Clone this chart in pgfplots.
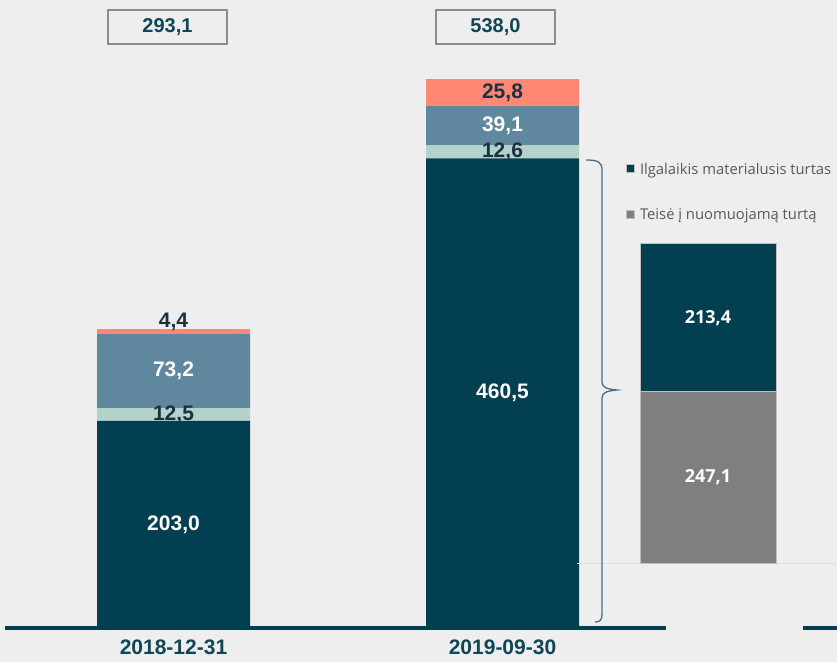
\documentclass[border=0pt]{standalone}
\usepackage{fontspec}
\setmainfont{Liberation Sans}
\newfontfamily\osans{Open Sans}
\usepackage{pgfplots}
\pgfplotsset{compat=1.18}

\definecolor{bg}{HTML}{EEEEEE}
\definecolor{tealc}{HTML}{023F50}
\definecolor{mint}{HTML}{B3D3CA}
\definecolor{steel}{HTML}{5F879E}
\definecolor{salmon}{HTML}{FF8875}
\definecolor{midgray}{HTML}{7F7F7F}
\definecolor{darktxt}{HTML}{1C3040}
\definecolor{boxtxt}{HTML}{0F4658}
\definecolor{bracec}{HTML}{4A6B8A}
\definecolor{legtxt}{HTML}{595959}

\begin{document}
\begin{tikzpicture}[x=1pt,y=1pt,
  lbl/.style={font=\bfseries\fontsize{21}{21}\selectfont},
  slbl/.style={font=\osans\bfseries\fontsize{18}{18}\selectfont, text=white}]
\fill[bg] (0,0) rectangle (837,662);
\useasboundingbox (0,0) rectangle (837,662);

% total boxes
\draw[gray!90, line width=1.1pt] (108,618) rectangle (227,652);
\draw[gray!90, line width=1.1pt] (436,618) rectangle (555,652);
\node[font=\bfseries\fontsize{20}{20}\selectfont, text=boxtxt] at (167.5,635) {293,1};
\node[font=\bfseries\fontsize{20}{20}\selectfont, text=boxtxt] at (495.5,635) {538,0};

% main stacked bars
\begin{axis}[
  at={(173.5pt,34pt)}, anchor=origin,
  x=329pt, y=1.02pt,
  xmin=-0.512, xmax=1.497, ymin=0, ymax=600,
  ybar stacked, bar width=153pt,
  axis line style={draw=none},
  ytick=\empty, xtick={0,1}, xticklabels={2018-12-31,2019-09-30},
  major tick length=0pt,
  xticklabel style={font=\bfseries\fontsize{21}{21}\selectfont, text=boxtxt, yshift=-8pt},
  clip=false,
]
\addplot[fill=tealc, draw=none] coordinates {(0,203.0) (1,460.5)};
\addplot[fill=mint, draw=none] coordinates {(0,12.5) (1,12.6)};
\addplot[fill=steel, draw=none] coordinates {(0,73.2) (1,39.1)};
\addplot[fill=salmon, draw=none] coordinates {(0,4.4) (1,25.8)};
\coordinate (b1) at (axis cs:0,101.5);
\coordinate (b2) at (axis cs:0,209.25);
\coordinate (b3) at (axis cs:0,252.1);
\coordinate (b4) at (axis cs:0,295);
\coordinate (c1) at (axis cs:1,230.25);
\coordinate (c2) at (axis cs:1,466.8);
\coordinate (c3) at (axis cs:1,492.65);
\coordinate (c4) at (axis cs:1,525.1);
\end{axis}
\draw[tealc, line width=4.5pt] (5,34) -- (666,34);
\node[lbl, text=white] at (b1) {203,0};
\node[lbl, text=darktxt] at (b2) {12,5};
\node[lbl, text=white] at (b3) {73,2};
\node[lbl, text=darktxt, anchor=base, inner sep=0pt] at (b4) {4,4};
\node[lbl, text=white] at (c1) {460,5};
\node[lbl, text=darktxt] at (c2) {12,6};
\node[lbl, text=white] at (c3) {39,1};
\node[lbl, text=darktxt] at (c4) {25,8};

% right part
\draw[tealc, line width=4.5pt] (803,34) -- (837,34);
\draw[black!12, line width=1pt] (577,99) -- (837,99);
\draw[bracec, line width=1.3pt] (586,502) .. controls (598,502) and (602,500) .. (602,492)
  -- (602,280) .. controls (602,275) and (606,273) .. (617,272)
  .. controls (606,271) and (602,269) .. (602,264)
  -- (602,48) .. controls (602,42) and (600,40) .. (595,40);

\begin{axis}[
  at={(708pt,99pt)}, anchor=origin,
  x=100pt, y=0.693pt,
  xmin=-1, xmax=1, ymin=0, ymax=600,
  ybar stacked, bar width=136pt,
  hide axis,
  clip=false,
  reverse legend,
  legend cell align=left,
  legend image code/.code={\fill[#1] (0pt,-3.5pt) rectangle (8pt,4.5pt);},
  legend style={at={(axis description cs:0.09,0.965)}, anchor=north west,
    draw=none, fill=none, inner sep=0pt, row sep=31pt, column sep=4pt,
    font=\osans\fontsize{14.8}{14.8}\selectfont, text=legtxt,
    nodes={inner sep=1pt}},
]
\addplot[fill=midgray, draw=black!25, line width=0.8pt] coordinates {(0,247.1)};
\addplot[fill=tealc, draw=black!25, line width=0.8pt] coordinates {(0,213.4)};
\legend{Teisė į nuomuojamą turtą, Ilgalaikis materialusis turtas}
\coordinate (s1) at (axis cs:0,123.55);
\coordinate (s2) at (axis cs:0,353.8);
\end{axis}
\node[slbl] at (s1) {247,1};
\node[slbl] at (s2) {213,4};
\end{tikzpicture}
\end{document}
